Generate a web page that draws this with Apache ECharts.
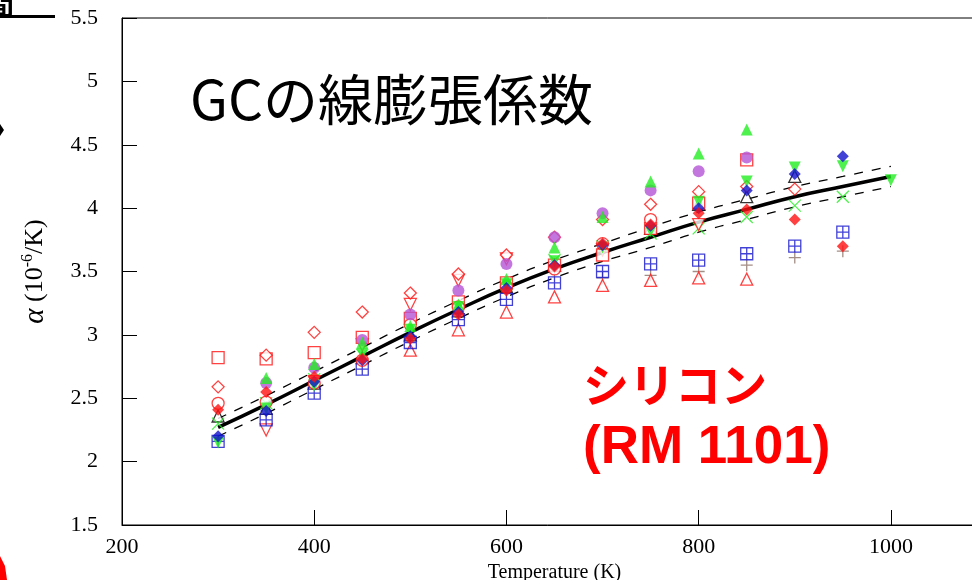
<!DOCTYPE html>
<html><head><meta charset="utf-8">
<script src="https://cdn.jsdelivr.net/npm/echarts@6/dist/echarts.min.js"></script>
<style>html,body{margin:0;padding:0;background:#fff}#c{width:972px;height:580px}</style>
</head><body><div id="c"></div>
<script>
// Temperatures (K)
const temps = [300,350,400,450,500,550,600,650,700,750,800,850,900,950,1000];
// Recommended curve and uncertainty band
const curve = [2.27,2.45,2.64,2.83,3.02,3.20,3.37,3.52,3.65,3.77,3.89,3.99,4.09,4.17,4.25];
const upper = [2.34,2.52,2.71,2.90,3.09,3.27,3.44,3.59,3.72,3.85,3.97,4.07,4.17,4.25,4.33];
const lower = [2.20,2.38,2.57,2.76,2.95,3.13,3.30,3.45,3.58,3.69,3.81,3.91,4.01,4.09,4.17];
// Measured data sets
const sqRed     = [2.82,2.81,2.86,2.98,3.13,3.26,3.41,3.55,3.63,3.84,4.04,4.38,null,null,null];
const diaOpen   = [2.59,2.84,3.02,3.18,3.33,3.48,3.63,3.77,3.91,4.03,4.13,4.17,4.15,null,null];
const circOpen  = [2.46,2.47,2.62,2.80,3.08,3.22,3.38,3.52,3.72,3.91,null,null,null,null,null];
const purple    = [null,2.62,2.74,2.96,3.16,3.35,3.56,3.77,3.96,4.14,4.29,4.40,null,null,null];
const greenUp   = [null,2.66,2.77,2.94,3.07,3.24,3.44,3.69,3.93,4.21,4.43,4.62,null,null,null];
const greenDown = [2.15,2.42,2.60,2.85,3.04,3.22,3.40,3.58,3.69,3.82,4.05,4.21,4.32,4.33,4.22];
const blueDia   = [2.20,2.40,2.63,2.80,2.99,3.18,3.37,3.55,3.71,3.86,4.00,4.14,4.27,4.41,null];
const redDia    = [2.41,2.55,2.67,2.81,2.97,3.16,3.35,3.54,3.72,3.87,3.96,3.99,3.91,3.70,null];
const blueGrid  = [2.16,2.33,2.54,2.73,2.94,3.12,3.28,3.41,3.50,3.56,3.59,3.64,3.70,3.81,null];
const triRed    = [null,null,null,null,2.88,3.04,3.18,3.30,3.39,3.43,3.45,3.44,null,null,null];
const triDownRed= [null,2.25,2.63,2.92,3.24,3.43,3.60,null,3.67,null,3.87,null,null,null,null];
const greenX    = [2.30,2.46,2.65,2.84,3.02,3.21,3.40,3.59,3.70,3.80,3.84,3.93,4.02,4.09,null];
const plusGray  = [null,null,null,null,null,null,null,3.50,3.45,3.47,3.50,3.55,3.61,3.66,null];
const triBlack  = [2.36,2.42,2.62,2.82,3.00,3.19,3.38,3.55,3.70,3.84,4.03,4.09,4.25,null,null];
// Axis ticks
const xTicks = {min:200, max:1100, interval:200};
const yTicks = {min:1.5, max:5.5, interval:0.5};

function pts(arr){ return temps.map((t,i)=>[t,arr[i]]).filter(p=>p[1]!==null); }

const PATH_X = 'path://M0,0L10,10M10,0L0,10';
const PATH_PLUS = 'path://M5,0L5,10M0,5L10,5';
const PATH_GRID = 'path://M0,0L10,0L10,10L0,10ZM5,0L5,10M0,5L10,5';

function sc(name, arr, symbol, color, filled, opts){
  opts = opts || {};
  return {
    name, type:'scatter', data: pts(arr), symbol, symbolSize: opts.size || 12,
    symbolRotate: opts.rot || 0,
    itemStyle: filled ? {color: color} : {color: opts.fillNone ? 'none' : '#fff', borderColor: color, borderWidth: 1.3},
    z: 3
  };
}

const red='#ff1111', green='#22ee22', blue='#1111cc', purp='#b455d6', gray='#8c7266';

const series = [
  {type:'line', data: pts(upper), smooth:true, symbol:'none', lineStyle:{color:'#000', width:1.3, type:[9,9]}, z:2},
  {type:'line', data: pts(lower), smooth:true, symbol:'none', lineStyle:{color:'#000', width:1.3, type:[9,9]}, z:2},
  {type:'line', data: pts(curve), smooth:true, symbol:'none', lineStyle:{color:'#000', width:3.5}, z:2},
  sc('triBlack', triBlack, 'triangle', '#000', false),
  sc('plus', plusGray, PATH_PLUS, gray, false, {fillNone:true}),
  sc('x', greenX, PATH_X, green, false, {fillNone:true}),
  sc('triRed', triRed, 'triangle', red, false),
  sc('triDownRed', triDownRed, 'triangle', red, false, {rot:180}),
  sc('grid', blueGrid, PATH_GRID, blue, false, {fillNone:true}),
  sc('sq', sqRed, 'rect', red, false),
  sc('circ', circOpen, 'circle', red, false),
  sc('diaO', diaOpen, 'diamond', red, false),
  sc('purple', purple, 'circle', purp, true),
  sc('gUp', greenUp, 'triangle', green, true),
  sc('gDown', greenDown, 'triangle', green, true, {rot:180}),
  sc('bDia', blueDia, 'diamond', blue, true),
  sc('rDia', redDia, 'diamond', red, true)
];

const serif = '"Liberation Serif","Times New Roman",serif';
const chart = echarts.init(document.getElementById('c'), null, {renderer:'canvas'});
chart.setOption({
  animation:false,
  backgroundColor:'#fff',
  grid:{left:122, top:18, right:-15, bottom:55, show:true, borderColor:'#000', borderWidth:1,
        containLabel:false, outerBoundsMode:'none'},
  xAxis:{type:'value', min:xTicks.min, max:xTicks.max, interval:xTicks.interval,
    name:'Temperature (K)', nameLocation:'middle', nameGap:36,
    nameTextStyle:{fontFamily:serif, fontSize:20, color:'#000'},
    axisLine:{lineStyle:{color:'#000', width:1}},
    axisTick:{inside:true, length:15, lineStyle:{color:'#000'}},
    axisLabel:{fontFamily:serif, fontSize:22, color:'#000', margin:11, showMaxLabel:false,
      formatter: v => String(v)},
    splitLine:{show:false}},
  yAxis:{type:'value', min:yTicks.min, max:yTicks.max, interval:yTicks.interval,
    name:'{a|α} (10{s|-6}/K)', nameLocation:'middle', nameGap:72, nameRotate:90,
    nameTextStyle:{fontFamily:serif, fontSize:26, color:'#000',
      rich:{a:{fontFamily:serif, fontStyle:'italic', fontSize:29, color:'#000', lineHeight:30},
            s:{fontFamily:serif, fontSize:16, color:'#000', verticalAlign:'top', lineHeight:15}}},
    axisLine:{lineStyle:{color:'#000', width:1}},
    axisTick:{inside:true, length:15, lineStyle:{color:'#000'}},
    axisLabel:{fontFamily:serif, fontSize:22, color:'#000', margin:24,
      formatter: v => String(v)},
    splitLine:{show:false}},
  graphic:[
    {type:'text', left:190, top:72, style:{text:'GCの線膨張係数', font:'55px "Noto Sans CJK JP","Noto Sans",sans-serif', fill:'#000'}},
    {type:'text', left:583, top:362, style:{text:'シリコン', font:'bold 46px "Noto Sans CJK JP",sans-serif', fill:'#ff0000'}},
    {type:'text', left:583, top:422, style:{text:'(RM 1101)', font:'bold 53px "Liberation Sans",Arial,sans-serif', fill:'#ff0000'}},
    {type:'text', left:-14, top:-10, style:{text:'間', font:'bold 28px "Noto Sans CJK JP",sans-serif', fill:'#000'}},
    {type:'rect', shape:{x:0, y:15, width:55, height:3}, style:{fill:'#000'}},
    {type:'polygon', shape:{points:[[0,124],[4,130],[0,136]]}, style:{fill:'#000'}},
    {type:'polygon', shape:{points:[[0,556],[5,566],[7,580],[0,580]]}, style:{fill:'#ff0000'}}
  ],
  series
});
</script></body></html>
